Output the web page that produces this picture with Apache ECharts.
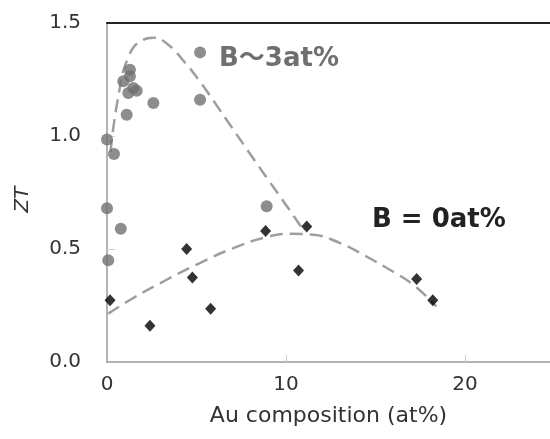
<!DOCTYPE html>
<html>
<head>
<meta charset="utf-8">
<script src="https://cdn.jsdelivr.net/npm/echarts@6/dist/echarts.min.js"></script>
<style>
  html, body { margin: 0; padding: 0; background: #fff; }
  #chart { width: 550px; height: 439px; }
</style>
</head>
<body>
<div id="chart"></div>
<script>
// B~3at% samples (Au at%, ZT)
const b3Au = [0.0, 0.39, 0.0, 0.77, 0.07, 1.1, 2.59, 5.2, 5.2, 1.28, 1.28, 0.91, 1.47, 1.19, 1.66, 8.92];
const b3ZT = [0.985, 0.92, 0.68, 0.59, 0.45, 1.094, 1.146, 1.37, 1.16, 1.293, 1.264, 1.242, 1.212, 1.19, 1.20, 0.689];

// B = 0at% samples
const b0Au = [0.17, 2.4, 4.45, 4.77, 5.79, 8.86, 11.16, 10.7, 17.3, 18.2];
const b0ZT = [0.273, 0.16, 0.50, 0.374, 0.236, 0.58, 0.60, 0.405, 0.367, 0.273];

// dashed guide curves
const b3CurveAu = [0.2, 0.6, 1.2, 2.0, 2.6, 3.4, 4.3, 5.2, 6.0, 7.0, 8.0, 9.0, 10.0, 11.0];
const b3CurveZT = [0.93, 1.16, 1.35, 1.425, 1.435, 1.405, 1.33, 1.24, 1.15, 1.035, 0.92, 0.807, 0.695, 0.58];
const b0CurveAu = [0.07, 1.47, 3.33, 5.19, 7.06, 8.92, 10.3, 11.5, 13.0, 14.3, 15.8, 17.1, 18.4];
const b0CurveZT = [0.214, 0.283, 0.364, 0.438, 0.504, 0.553, 0.567, 0.563, 0.527, 0.475, 0.408, 0.342, 0.246];

const yTicks = ["0.0", "0.5", "1.0", "1.5"];

const zip = (xs, ys) => xs.map((x, i) => [x, ys[i]]);

const chart = echarts.init(document.getElementById("chart"));
const axisGray = "#9a9a9a";
const font = "DejaVu Sans";

chart.setOption({
  animation: false,
  grid: { left: 107, right: 0, top: 23, bottom: 77, containLabel: false, outerBoundsMode: "none" },
  xAxis: [
    {
      type: "value",
      min: 0,
      max: 24.75,
      interval: 10,
      name: "Au composition (at%)",
      nameLocation: "middle",
      nameGap: 43,
      nameTextStyle: { color: "#333", fontSize: 22, fontFamily: font },
      axisLine: { onZero: false, lineStyle: { color: axisGray, width: 1.5 } },
      axisTick: { inside: true, length: 7, customValues: [10, 20], lineStyle: { color: "#ccc" } },
      axisLabel: { color: "#333", fontSize: 20, fontFamily: font, margin: 13, showMaxLabel: false },
      splitLine: { show: false },
    },
    {
      // black frame line along the top
      type: "value",
      position: "top",
      min: 0,
      max: 24.75,
      z: 5,
      axisLine: { onZero: false, lineStyle: { color: "#222", width: 2 } },
      axisTick: { show: false },
      axisLabel: { show: false },
      splitLine: { show: false },
    },
  ],
  yAxis: {
    type: "value",
    min: 0,
    max: 1.5,
    interval: 0.5,
    name: "ZT",
    nameLocation: "middle",
    nameRotate: 90,
    nameGap: 74,
    nameTextStyle: { color: "#333", fontSize: 20, fontStyle: "italic", fontFamily: font, padding: [0, 14, 0, 0] },
    axisLine: { show: true, onZero: false, lineStyle: { color: axisGray, width: 1.5 } },
    axisTick: { show: true, inside: true, length: 8, customValues: [0.5, 1.0], lineStyle: { color: "#ccc" } },
    axisLabel: {
      color: "#333",
      fontSize: 20,
      fontFamily: font,
      margin: 26,
      formatter: (v) => yTicks[Math.round(v / 0.5)],
    },
    splitLine: { show: false },
  },
  series: [
    {
      type: "line",
      data: zip(b3CurveAu, b3CurveZT),
      smooth: true,
      symbol: "none",
      lineStyle: { color: "#9e9e9e", width: 2.5, type: [13, 7] },
      z: 1,
    },
    {
      type: "line",
      data: zip(b0CurveAu, b0CurveZT),
      smooth: true,
      symbol: "none",
      lineStyle: { color: "#9e9e9e", width: 2.5, type: [13, 7] },
      z: 1,
    },
    {
      type: "scatter",
      data: zip(b3Au, b3ZT),
      symbol: "circle",
      symbolSize: 12,
      itemStyle: { color: "#717174" },
      z: 3,
    },
    {
      type: "scatter",
      data: zip(b0Au, b0ZT),
      symbol: "diamond",
      symbolSize: [11, 12],
      itemStyle: { color: "#000" },
      z: 3,
    },
  ],
  graphic: [
    {
      type: "text",
      left: 219,
      top: 46,
      style: { text: "B〜3at%", fill: "#6f6f72", fontSize: 26, fontWeight: "bold", fontFamily: font + ", Noto Sans CJK JP" },
    },
    {
      type: "text",
      left: 372,
      top: 207,
      style: { text: "B = 0at%", fill: "#222", fontSize: 26, fontWeight: "bold", fontFamily: font },
    },
  ],
});
</script>
</body>
</html>
